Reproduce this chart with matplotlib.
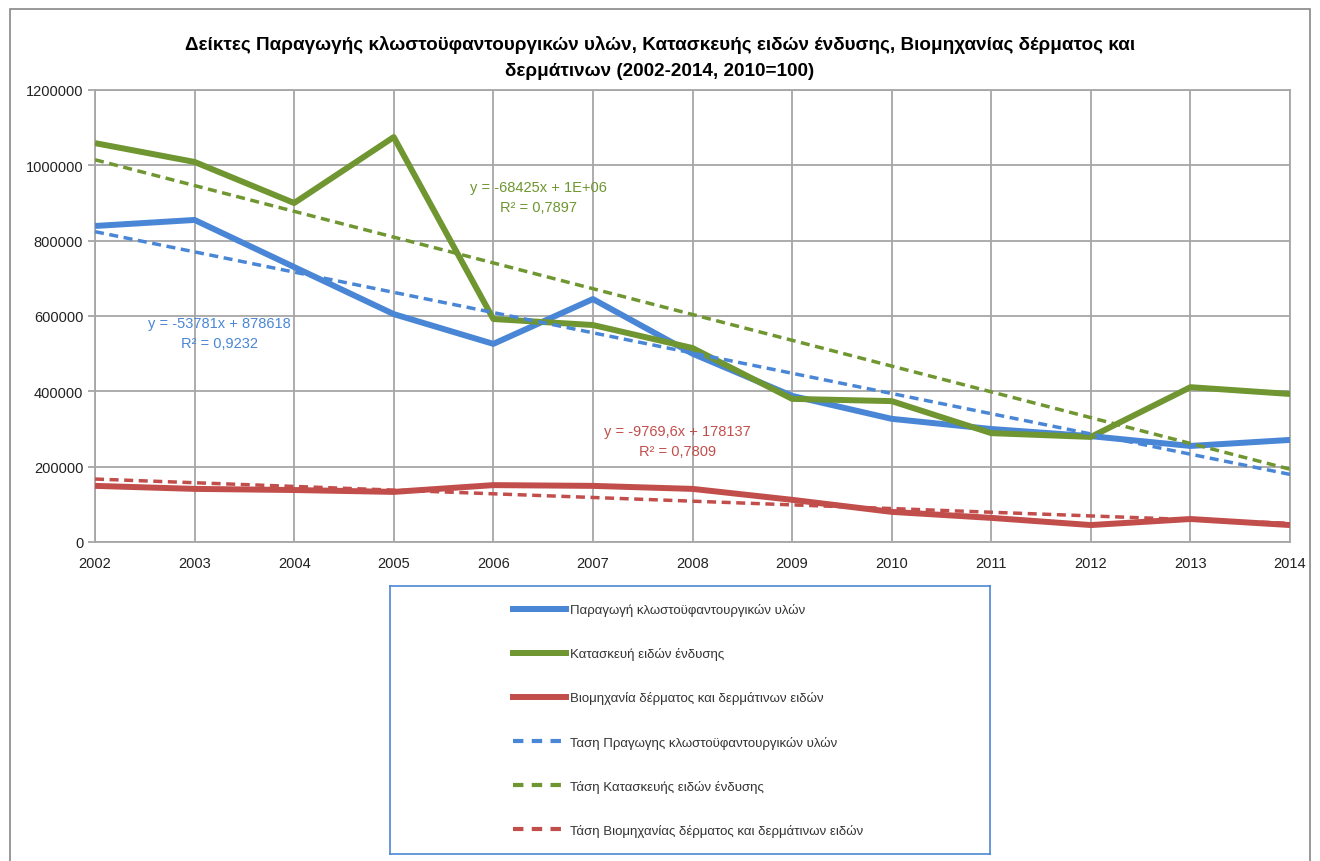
import numpy as np
import matplotlib.pyplot as plt
from matplotlib.patches import Rectangle
from matplotlib.lines import Line2D

plt.rcParams['font.family'] = ['Liberation Sans', 'DejaVu Sans']

years = list(range(2002, 2015))
textiles = [839000, 855000, 730000, 605000, 526000, 645000, 500000,
            388000, 327000, 300000, 281000, 255000, 271000]
clothing = [1059000, 1009000, 900000, 1075000, 592000, 576000, 515000,
            380000, 374000, 289000, 279000, 411000, 393000]
leather = [149000, 141000, 138000, 133000, 151000, 149000, 141000,
           112000, 80000, 64000, 45000, 61000, 45000]

names = ['Παραγωγή κλωστοϋφαντουργικών υλών',
         'Κατασκευή ειδών ένδυσης',
         'Βιομηχανία δέρματος και δερμάτινων ειδών']
trend_names = ['Ταση Πραγωγης κλωστοϋφαντουργικών υλών',
               'Τάση Κατασκευής ειδών ένδυσης',
               'Τάση Βιομηχανίας δέρματος και δερμάτινων ειδών']
equations = ['y = -53781x + 878618\nR² = 0,9232',
             'y = -68425x + 1E+06\nR² = 0,7897',
             'y = -9769,6x + 178137\nR² = 0,7809']
eq_pos = [(2003.25, 555000), (2006.45, 916000), (2007.85, 268000)]
colors = ['#4A86D6', '#6F9630', '#C24E4C']

fig = plt.figure(figsize=(13.2, 8.62), dpi=100)
fig.patches.append(Rectangle((10 / 1320, -0.05), 1300 / 1320, 1.05 - 10 / 862,
                             transform=fig.transFigure, fill=False,
                             edgecolor='#888888', lw=1.2))

ax = fig.add_axes([95 / 1320, 1 - 543 / 862, 1195 / 1320, 452 / 862])

x = np.arange(1, len(years) + 1)
handles = []
for series, c in zip([textiles, clothing, leather], colors):
    h, = ax.plot(years, series, color=c, lw=4.3, solid_capstyle='butt', zorder=3)
    handles.append(h)
trend_handles = []
for series, c in zip([textiles, clothing, leather], colors):
    k, b = np.polyfit(x, series, 1)
    h, = ax.plot(years, k * x + b, color=c, lw=2.5, ls=(0, (2.6, 1.6)), zorder=4)
    trend_handles.append(h)

for eq, (ex, ey), c in zip(equations, eq_pos, colors):
    ax.text(ex, ey, eq, color=c, fontsize=10.5, ha='center', va='center',
            linespacing=1.5)

ax.set_xlim(2002, 2014)
ax.set_ylim(0, 1200000)
ax.set_xticks(years)
ax.set_yticks(range(0, 1200001, 200000))
ax.ticklabel_format(style='plain', axis='y', useOffset=False)
ax.grid(True, color='#a6a6a6', lw=1.3)
ax.set_axisbelow(True)
for s in ax.spines.values():
    s.set_color('#a6a6a6')
    s.set_linewidth(1.3)
ax.tick_params(axis='both', labelsize=10.5, colors='#a6a6a6', labelcolor='#222222',
               length=5, width=1.3)
ax.tick_params(axis='x', length=0, pad=10)

fig.text(0.5, 1 - 45 / 862, 'Δείκτες Παραγωγής κλωστοϋφαντουργικών υλών, Κατασκευής ειδών ένδυσης, Βιομηχανίας δέρματος και',
         ha='center', va='center', fontsize=13.6, fontweight='bold')
fig.text(0.5, 1 - 72 / 862, 'δερμάτινων (2002-2014, 2010=100)',
         ha='center', va='center', fontsize=13.6, fontweight='bold')

lax = fig.add_axes([390 / 1320, 1 - 855 / 862, 600 / 1320, 268 / 862])
lax.set_xticks([])
lax.set_yticks([])
for s in lax.spines.values():
    s.set_color('#4A86D6')
    s.set_linewidth(1.2)
leg_handles = [Line2D([], [], color=h.get_color(), lw=4.3) for h in handles] + \
              [Line2D([], [], color=h.get_color(), lw=3, ls=(0, (2.5, 2))) for h in trend_handles]
lax.legend(leg_handles, names + trend_names, loc='center left', bbox_to_anchor=(0.185, 0.5),
           frameon=False, fontsize=9.5, labelspacing=2.35, handlelength=4.0,
           handletextpad=0.35, labelcolor='#333333')

fig.savefig('out.png', dpi=100)
